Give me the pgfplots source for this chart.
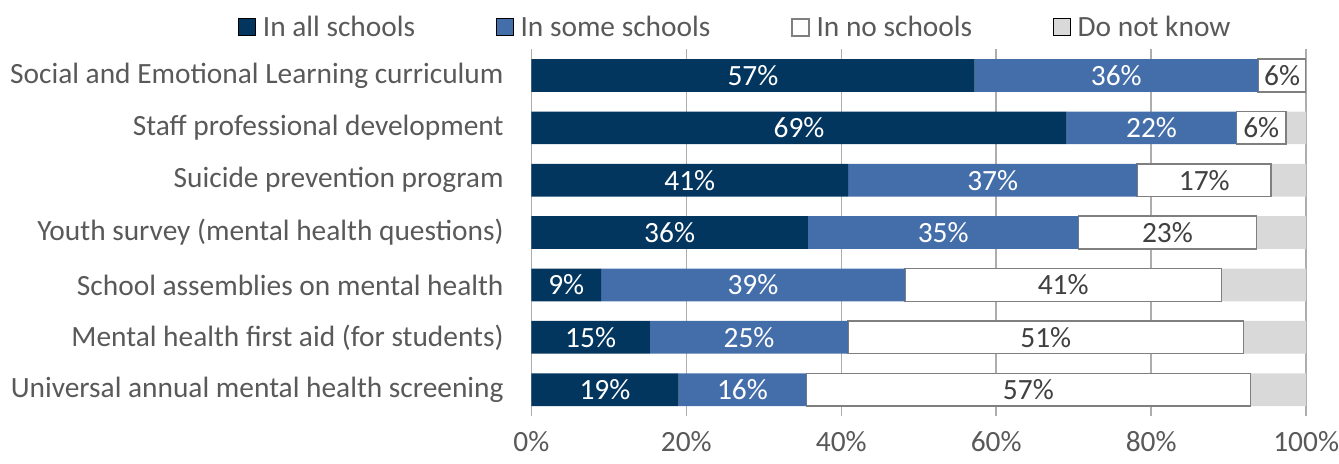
\documentclass[border=0pt]{standalone}
\usepackage{pgfplots}
\pgfplotsset{compat=1.18}
\usepackage{pgfplotstable}
\usepackage{fontspec}
\setmainfont{Carlito}
\definecolor{navy}{HTML}{03365F}
\definecolor{midblue}{HTML}{446EAA}
\definecolor{dkgray}{HTML}{D9D9D9}
\definecolor{bordergray}{HTML}{7F7F7F}
\definecolor{txtgray}{HTML}{595959}
\definecolor{lbldark}{HTML}{404040}
\definecolor{gridgray}{HTML}{ADADAD}

\pgfplotstableread[col sep=comma]{
y,all,some,none,dk,lall,lsome,lnone
0,57.2,36.6,6.2,0.0,57,36,6
1,69.1,21.9,6.4,2.6,69,22,6
2,40.9,37.3,17.3,4.5,41,37,17
3,35.7,34.9,23.0,6.4,36,35,23
4,9.0,39.2,40.9,10.9,9,39,41
5,15.3,25.6,51.0,8.1,15,25,51
6,19.0,16.5,57.3,7.2,19,16,57
}\data

\newcommand{\fs}{\fontsize{14.7}{17}\selectfont}

\begin{document}
\begin{tikzpicture}
\begin{axis}[
  scale only axis, width=387.5pt, height=183.35pt,
  xbar stacked, bar width=16.35pt,
  xmin=0, xmax=100, ymin=-0.5, ymax=6.5, y dir=reverse,
  xtick={0,20,40,60,80,100},
  xticklabels={0\%,20\%,40\%,60\%,80\%,100\%},
  ytick={0,1,2,3,4,5,6},
  yticklabels={Social and Emotional Learning curriculum,Staff professional development,Suicide prevention program,Youth survey (mental health questions),School assemblies on mental health,Mental health first aid (for students),Universal annual mental health screening},
  xmajorgrids, major grid style={gridgray, line width=0.75pt},
  axis line style={draw=none},
  major tick length=0pt,
  tick label style={font=\fs, text=txtgray, inner sep=0pt},
  xticklabel style={yshift=-7.6pt},
  yticklabel style={xshift=-13.7pt},
  point meta=explicit symbolic,
  legend columns=4,
  legend style={at={(0.2645,1.06)}, anchor=center, draw=none, fill=none,
    font=\fs, text=txtgray,
    /tikz/every odd column/.append style={column sep=1.5pt},
    /tikz/every even column/.append style={column sep=38.3pt}},
  mylegend/.style={legend image code/.code={\draw[##1] (0pt,-4.25pt) rectangle (8.5pt,4.25pt);}},
  lbl/.style={nodes near coords={\pgfplotspointmeta\%},
    nodes near coords style={font=\fs, text=#1, anchor=center}},
]
\addplot[fill=navy, draw=none, mylegend, lbl=white]
  table[x=all, y=y, meta=lall]{\data};
\addlegendentry{In all schools}
\addplot[fill=midblue, draw=none, mylegend, lbl=white]
  table[x=some, y=y, meta=lsome]{\data};
\addlegendentry{In some schools}
\addplot[fill=white, draw=bordergray, line width=0.8pt, mylegend, lbl=lbldark]
  table[x=none, y=y, meta=lnone]{\data};
\addlegendentry{In no schools}
\addplot[fill=dkgray, draw=none, mylegend]
  table[x=dk, y=y, meta=lall]{\data};
\addlegendentry{Do not know}
\end{axis}
\path (-265.75pt,-24pt) rectangle (403.75pt,208pt);
\end{tikzpicture}
\end{document}
